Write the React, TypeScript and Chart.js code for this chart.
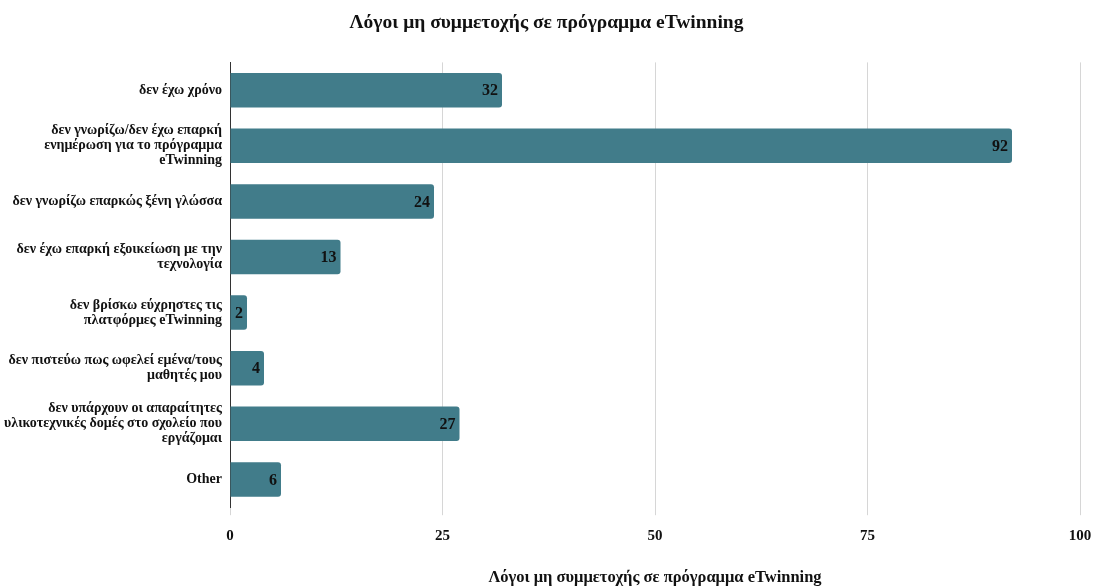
import React, { useEffect, useRef } from "react";
import { Chart, registerables } from "chart.js";

Chart.register(...registerables);

const categories: (string | string[])[] = [
  "δεν έχω χρόνο",
  ["δεν γνωρίζω/δεν έχω επαρκή", "ενημέρωση για το πρόγραμμα", "eTwinning"],
  "δεν γνωρίζω επαρκώς ξένη γλώσσα",
  ["δεν έχω επαρκή εξοικείωση με την", "τεχνολογία"],
  ["δεν βρίσκω εύχρηστες τις", "πλατφόρμες eTwinning"],
  ["δεν πιστεύω πως ωφελεί εμένα/τους", "μαθητές μου"],
  ["δεν υπάρχουν οι απαραίτητες", "υλικοτεχνικές δομές στο σχολείο που", "εργάζομαι"],
  "Other",
];
const values: number[] = [32, 92, 24, 13, 2, 4, 27, 6];
const xTicks: number[] = [0, 25, 50, 75, 100];
const titleText = "Λόγοι μη συμμετοχής σε πρόγραμμα eTwinning";
const axisTitleText = "Λόγοι μη συμμετοχής σε πρόγραμμα eTwinning";

const FONT = "'Liberation Serif', 'Times New Roman', serif";

const valueLabels = {
  id: "valueLabels",
  afterDatasetsDraw(chart: any) {
    const ctx = chart.ctx;
    const meta = chart.getDatasetMeta(0);
    ctx.save();
    ctx.font = `bold 16px ${FONT}`;
    ctx.fillStyle = "#111";
    ctx.textAlign = "right";
    ctx.textBaseline = "middle";
    meta.data.forEach((bar: any, i: number) => {
      ctx.fillText(String(values[i]), bar.x - 4, bar.y + 1);
    });
    ctx.restore();
  },
};

export default function App() {
  const ref = useRef<HTMLCanvasElement>(null);
  useEffect(() => {
    document.body.style.margin = "0";
    const chart = new Chart(ref.current!, {
      type: "bar",
      data: {
        labels: categories,
        datasets: [
          {
            data: values,
            backgroundColor: "#417c8a",
            borderRadius: 3,
            borderSkipped: "start",
            barPercentage: 0.62,
            categoryPercentage: 1,
          },
        ],
      },
      plugins: [valueLabels],
      options: {
        indexAxis: "y",
        animation: false,
        responsive: false,
        layout: { padding: { top: 4, right: 0, bottom: 0, left: 0 } },
        plugins: {
          legend: { display: false },
          tooltip: { enabled: false },
          title: {
            display: true,
            text: titleText,
            color: "#111",
            font: { family: FONT, size: 19.5, weight: "bold" },
            padding: { top: 7, bottom: 28 },
          },
        },
        scales: {
          x: {
            min: 0,
            max: 100,
            afterBuildTicks(axis: any) {
              axis.ticks = xTicks.map((v) => ({ value: v }));
            },
            afterFit(axis: any) {
              axis.paddingRight = 13;
            },
            grid: {
              color: "#d6d6d6",
              tickLength: 8,
              drawTicks: true,
            },
            border: { display: false },
            ticks: {
              color: "#111",
              font: { family: FONT, size: 15, weight: "bold" },
              padding: 12,
              maxRotation: 0,
            },
            title: {
              display: true,
              text: axisTitleText,
              color: "#111",
              font: { family: FONT, size: 16.5, weight: "bold" },
              padding: { top: 11, bottom: 0 },
            },
          },
          y: {
            afterFit(axis: any) {
              axis.width = 230;
            },
            grid: { display: false, drawTicks: false },
            border: { display: true, color: "#333", width: 1 },
            ticks: {
              color: "#111",
              font: { family: FONT, size: 14, weight: "bold", lineHeight: 1.07 },
              padding: 8,
              autoSkip: false,
            },
          },
        },
      },
    });
    return () => chart.destroy();
  }, []);
  return (
    <div style={{ width: 1093, height: 588, background: "#fff" }}>
      <canvas ref={ref} width={1093} height={588} />
    </div>
  );
}
